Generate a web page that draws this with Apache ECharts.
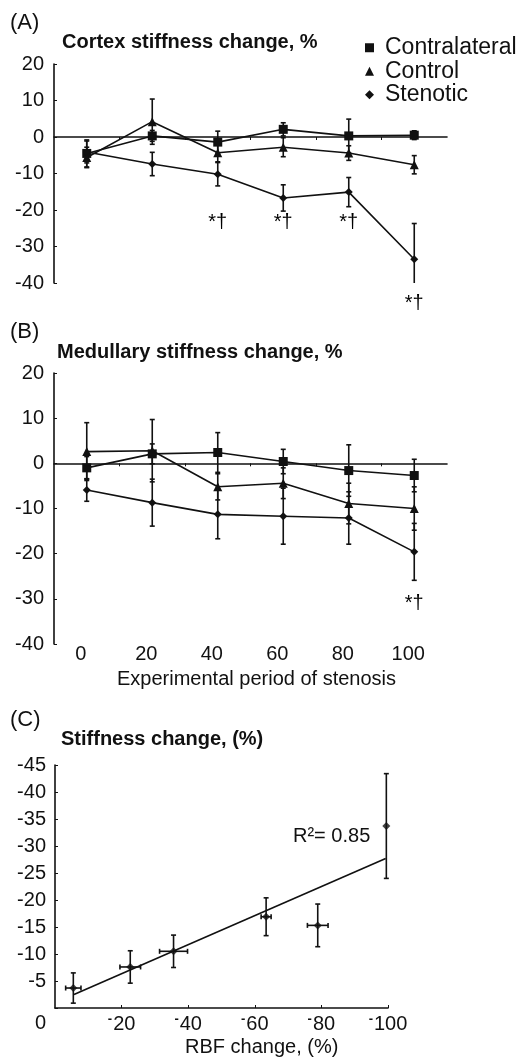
<!DOCTYPE html>
<html>
<head>
<meta charset="utf-8">
<script src="https://cdn.jsdelivr.net/npm/echarts@6/dist/echarts.min.js"></script>
<style>
html,body{margin:0;padding:0;background:#fff;}
#chart{width:524px;height:1061px;}
</style>
</head>
<body>
<div id="chart"></div>
<script>
// ---------- data ----------
const periods = [0, 20, 40, 60, 80, 100];
const periodLabels = [0, 20, 40, 60, 80, 100];
const midTicks = [10, 30, 50, 70, 90];

const cortexContra = [-4.5, 0.3, -1.4, 2.1, 0.3, 0.5];
const cortexContraErr = [3.7, 1.5, 3.0, 1.8, 4.6, 1.2];
const cortexControl = [-5.6, 4.2, -4.3, -2.8, -4.4, -7.6];
const cortexControlErr = [2.8, 6.2, 2.5, 2.6, 2.0, 2.5];
const cortexSten = [-4.1, -7.4, -10.2, -16.7, -15.1, -33.5];
const cortexStenErr = [3.0, 3.2, 3.2, 3.6, 4.0, 9.8];

const medContra = [-1.0, 2.1, 2.4, 0.4, -1.6, -2.7];
const medContraErr = [2.5, 2.2, 4.4, 2.7, 5.7, 3.6];
const medControl = [2.6, 2.8, -5.2, -4.4, -8.9, -10.0];
const medControlErr = [6.4, 6.9, 2.9, 3.4, 4.5, 4.8];
const medSten = [-5.9, -8.7, -11.3, -11.7, -12.1, -19.6];
const medStenErr = [2.5, 5.2, 5.4, 6.2, 5.8, 6.3];

// significance markers (x period, y position in axis units)
const sigCortexX = [40, 60, 80, 100];
const sigCortexY = [-23.5, -23.5, -23.5, -45.5];
const sigMedX = [100];
const sigMedY = [-31];

// panel C
const rbfChange = [-5.5, -22.6, -35.6, -63.4, -78.9, -99.5];
const rbfErr = [2.3, 3.1, 4.2, 1.5, 3.1, 0];
const stiffChange = [-3.7, -7.6, -10.5, -16.9, -15.3, -33.7];
const stiffErr = [2.8, 3.0, 3.0, 3.5, 3.95, 9.7];
const fitX = [-5.7, -99.3];
const fitY = [-2.5, -27.7];
const rbfTicks = [-20, -40, -60, -80, -100];

// ---------- style ----------
const FONT = "'Liberation Sans', Arial, sans-serif";
const INK = '#111';
const LW = 1.6;

function pairs(xs, ys) { return xs.map((x, i) => [x, ys[i]]); }

function lineSeries(name, xi, yi, xs, ys, symbol, size) {
  return {
    name: name, type: 'line', xAxisIndex: xi, yAxisIndex: yi,
    data: pairs(xs, ys), symbol: symbol, symbolSize: size,
    lineStyle: { color: INK, width: LW }, itemStyle: { color: INK },
    z: 3, silent: true, animation: false
  };
}

function errSeries(xi, yi, xs, ys, es, clip) {
  return {
    type: 'custom', xAxisIndex: xi, yAxisIndex: yi, clip: !!clip,
    data: xs.map((x, i) => [x, ys[i], es[i]]),
    encode: { x: 0, y: 1 },
    silent: true, animation: false, z: 2,
    renderItem: function (params, api) {
      const x = api.value(0), y = api.value(1), e = api.value(2);
      const t = api.coord([x, y + e]), b = api.coord([x, y - e]);
      const w = 2.5, st = { stroke: INK, lineWidth: LW };
      return { type: 'group', children: [
        { type: 'line', shape: { x1: t[0], y1: t[1], x2: b[0], y2: b[1] }, style: st },
        { type: 'line', shape: { x1: t[0] - w, y1: t[1], x2: t[0] + w, y2: t[1] }, style: st },
        { type: 'line', shape: { x1: b[0] - w, y1: b[1], x2: b[0] + w, y2: b[1] }, style: st }
      ]};
    }
  };
}

function xyErrSeries(xi, yi, xs, ys, exs, eys) {
  return {
    type: 'custom', xAxisIndex: xi, yAxisIndex: yi,
    data: xs.map((x, i) => [x, ys[i], exs[i], eys[i]]),
    encode: { x: 0, y: 1 },
    silent: true, animation: false, z: 2,
    renderItem: function (params, api) {
      const x = api.value(0), y = api.value(1), ex = api.value(2), ey = api.value(3);
      const t = api.coord([x, y + ey]), b = api.coord([x, y - ey]);
      const l = api.coord([x - ex, y]), r = api.coord([x + ex, y]);
      const w = 2.5, st = { stroke: INK, lineWidth: LW };
      const ch = [
        { type: 'line', shape: { x1: t[0], y1: t[1], x2: b[0], y2: b[1] }, style: st },
        { type: 'line', shape: { x1: t[0] - w, y1: t[1], x2: t[0] + w, y2: t[1] }, style: st },
        { type: 'line', shape: { x1: b[0] - w, y1: b[1], x2: b[0] + w, y2: b[1] }, style: st }
      ];
      if (ex > 0) {
        ch.push({ type: 'line', shape: { x1: l[0], y1: l[1], x2: r[0], y2: r[1] }, style: st });
        ch.push({ type: 'line', shape: { x1: l[0], y1: l[1] - w, x2: l[0], y2: l[1] + w }, style: st });
        ch.push({ type: 'line', shape: { x1: r[0], y1: r[1] - w, x2: r[0], y2: r[1] + w }, style: st });
      }
      return { type: 'group', children: ch };
    }
  };
}

function sigSeries(xi, yi, xs, ys) {
  return {
    type: 'scatter', xAxisIndex: xi, yAxisIndex: yi, clip: false,
    data: pairs(xs, ys), symbolSize: 0, itemStyle: { color: INK, opacity: 1 },
    label: { show: true, position: 'inside', formatter: '*\u2020', fontSize: 20, fontFamily: FONT, color: '#000', opacity: 1 },
    silent: true, animation: false, z: 4
  };
}

const axisLabelStyle = { fontSize: 20, fontFamily: FONT, color: INK };

function yAxisStd(grid, min, max, interval) {
  return {
    type: 'value', gridIndex: grid, min: min, max: max, interval: interval,
    axisLine: { show: true, onZero: false, lineStyle: { color: INK, width: LW } },
    axisTick: { show: true, inside: true, length: 3, lineStyle: { color: INK, width: 1 } },
    axisLabel: Object.assign({ margin: 10 }, axisLabelStyle),
    splitLine: { show: false }
  };
}

function zeroXAxis(grid) {
  return {
    type: 'value', gridIndex: grid, min: -10, max: 110,
    axisLine: { show: true, onZero: true, lineStyle: { color: INK, width: LW } },
    axisTick: { show: true, length: 3, customValues: midTicks, lineStyle: { color: INK, width: 1 } },
    axisLabel: { show: false },
    splitLine: { show: false }
  };
}

const titleStyle = (size, bold) => ({ fontSize: size, fontWeight: bold ? 'bold' : 'normal', fontFamily: FONT, color: INK });

const option = {
  backgroundColor: '#fff',
  animation: false,
  title: [
    { text: '(A)', left: 10, top: 12, padding: 0, textStyle: titleStyle(22) },
    { text: 'Cortex stiffness change, %', left: 62, top: 32, padding: 0, textStyle: titleStyle(20, true) },
    { text: '(B)', left: 10, top: 321, padding: 0, textStyle: titleStyle(22) },
    { text: 'Medullary stiffness change, %', left: 57, top: 342, padding: 0, textStyle: titleStyle(20, true) },
    { text: 'Experimental period of stenosis', left: 117, top: 669, padding: 0, textStyle: titleStyle(20) },
    { text: '(C)', left: 10, top: 709, padding: 0, textStyle: titleStyle(22) },
    { text: 'Stiffness change, (%)', left: 61, top: 729, padding: 0, textStyle: titleStyle(20, true) },
    { text: 'RBF change, (%)', left: 185, top: 1037, padding: 0, textStyle: titleStyle(20) },
    { text: 'R\u00b2= 0.85', left: 293, top: 826, padding: 0, textStyle: titleStyle(20) }
  ],
  legend: {
    orient: 'vertical', left: 365, top: 36, padding: 0,
    itemGap: 0, itemWidth: 9, itemHeight: 9, selectedMode: false,
    textStyle: { fontSize: 23, lineHeight: 23.5, fontFamily: FONT, color: INK, padding: [0, 0, 0, 6] },
    data: [
      { name: 'Contralateral', icon: 'rect' },
      { name: 'Control', icon: 'triangle' },
      { name: 'Stenotic', icon: 'diamond' }
    ]
  },
  grid: [
    { left: 54, top: 64, width: 393, height: 219, containLabel: false },
    { left: 54, top: 373, width: 393, height: 271, containLabel: false },
    { left: 55, top: 765, width: 333, height: 243, containLabel: false }
  ],
  xAxis: [
    zeroXAxis(0),
    zeroXAxis(1),
    {
      type: 'value', gridIndex: 1, min: -10, max: 110, position: 'bottom',
      axisLine: { show: false, onZero: false }, axisTick: { show: false },
      axisLabel: Object.assign({ customValues: periodLabels, margin: 0, padding: [0, 12, 0, 0] }, axisLabelStyle),
      splitLine: { show: false }
    },
    {
      type: 'value', gridIndex: 2, min: -100, max: 0, inverse: true, position: 'bottom',
      axisLine: { show: true, onZero: false, lineStyle: { color: INK, width: LW } },
      axisTick: { show: true, inside: true, length: 3, customValues: rbfTicks, lineStyle: { color: INK, width: 1 } },
      axisLabel: Object.assign({
        customValues: rbfTicks, margin: 5,
        formatter: v => '{m|-}{d|' + Math.abs(v) + '}',
        rich: {
          m: { fontSize: 13, fontWeight: 'bold', fontFamily: FONT, color: INK, lineHeight: 9, verticalAlign: 'top', padding: [0, 1, 0, 0] },
          d: { fontSize: 20, fontFamily: FONT, color: INK, lineHeight: 22 }
        }
      }, axisLabelStyle),
      splitLine: { show: false }
    }
  ],
  yAxis: [
    yAxisStd(0, -40, 20, 10),
    yAxisStd(1, -40, 20, 10),
    Object.assign(yAxisStd(2, -45, 0, 5), {
      inverse: true,
      axisLabel: Object.assign({
        margin: 9,
        formatter: v => v === 0 ? '{z|0}' : String(v),
        rich: { z: { fontSize: 20, fontFamily: FONT, color: INK, padding: [30, 0, 0, 0] } }
      }, axisLabelStyle)
    })
  ],
  series: [
    // panel A
    errSeries(0, 0, periods, cortexContra, cortexContraErr, true),
    errSeries(0, 0, periods, cortexControl, cortexControlErr, true),
    errSeries(0, 0, periods, cortexSten, cortexStenErr, true),
    lineSeries('Contralateral', 0, 0, periods, cortexContra, 'rect', 9),
    lineSeries('Control', 0, 0, periods, cortexControl, 'triangle', 9),
    lineSeries('Stenotic', 0, 0, periods, cortexSten, 'diamond', 8),
    sigSeries(0, 0, sigCortexX, sigCortexY),
    // panel B
    errSeries(1, 1, periods, medContra, medContraErr, true),
    errSeries(1, 1, periods, medControl, medControlErr, true),
    errSeries(1, 1, periods, medSten, medStenErr, true),
    lineSeries('Contralateral', 1, 1, periods, medContra, 'rect', 9),
    lineSeries('Control', 1, 1, periods, medControl, 'triangle', 9),
    lineSeries('Stenotic', 1, 1, periods, medSten, 'diamond', 8),
    sigSeries(1, 1, sigMedX, sigMedY),
    // panel C
    xyErrSeries(3, 2, rbfChange, stiffChange, rbfErr, stiffErr),
    {
      type: 'line', xAxisIndex: 3, yAxisIndex: 2, data: pairs(fitX, fitY),
      symbol: 'none', lineStyle: { color: INK, width: LW }, silent: true, animation: false, z: 2
    },
    {
      type: 'scatter', xAxisIndex: 3, yAxisIndex: 2, data: pairs(rbfChange, stiffChange),
      symbol: 'diamond', symbolSize: 8, itemStyle: { color: INK }, silent: true, animation: false, z: 3
    }
  ]
};

const chart = echarts.init(document.getElementById('chart'), null, { renderer: 'canvas' });
chart.setOption(option);
</script>
</body>
</html>
